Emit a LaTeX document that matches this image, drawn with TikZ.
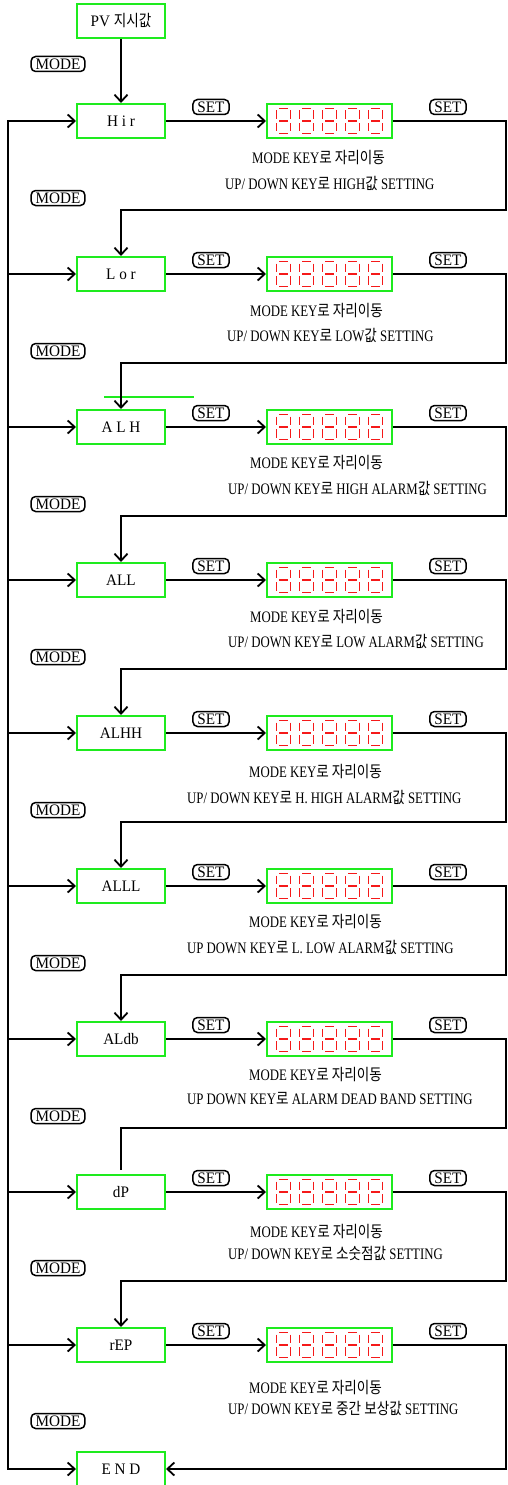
\documentclass[tikz,border=0pt]{standalone}
\usepackage{fontspec}
\setmainfont{Liberation Serif}[FakeStretch=0.8]
\newfontfamily\keyfont{Liberation Serif}[FakeStretch=0.95]
\newfontfamily\kr{Noto Sans CJK KR}[FakeStretch=0.85]
\usetikzlibrary{positioning,arrows.meta}
\definecolor{boxgreen}{RGB}{30,235,30}
\definecolor{segred}{RGB}{245,25,25}
% five seven-segment "8" digits inside a display box
\newcommand{\segdisplay}[1]{%
  \begin{scope}[shift={(#1.center)}]
    \foreach \k in {-46,-23,0,23,46} {%
      \draw[segline] ({\k-4.5},-12.5) -- ({\k+4.5},-12.5) ({\k-4.5},0) -- ({\k+4.5},0) ({\k-4.5},12.5) -- ({\k+4.5},12.5)
        ({\k-7},-10.5) -- ({\k-7},-2.2) ({\k+7},-10.5) -- ({\k+7},-2.2)
        ({\k-7},2.2) -- ({\k-7},10.5) ({\k+7},2.2) -- ({\k+7},10.5);
    }
  \end{scope}}

\begin{document}
\begin{tikzpicture}[x=1pt,y=-1pt,
  menubox/.style={draw=boxgreen,line width=2pt,minimum width=88pt,minimum height=34pt,inner sep=0pt,font=\keyfont\fontsize{16}{18}\selectfont},
  dispbox/.style={draw=boxgreen,line width=2pt,minimum width=125pt,minimum height=34pt,inner sep=0pt},
  keycap/.style={draw,rounded corners=4.5pt,line width=1.5pt,inner xsep=4.5pt,inner ysep=0pt,minimum height=15pt,font=\keyfont\fontsize{16}{16}\selectfont},
  note/.style={anchor=west,inner sep=0pt,font=\fontsize{16}{18}\selectfont},
  flowarr/.style={line width=1.8pt,-{Straight Barb[length=7pt,width=13pt]}},
  flowline/.style={line width=1.8pt},
  segline/.style={draw=segred,line width=1.8pt}]
\useasboundingbox (0,0) rectangle (507,1485);
% PV
\node[menubox] (pv) at (121,21) {PV {\kr 지시값}};
\node[keycap] (mode1) at (58,64) {MODE};
% Hir
\node[menubox] (hir) at (121,121) {H i r};
\node[dispbox,right=100pt of hir] (d1) {};
\segdisplay{d1}
\node[keycap] (hirset) at (211,107) {SET};
\node[keycap] (hirnext) at (448,107) {SET};
\node[note] (hirtxt1) at (252,158) {MODE KEY{\kr 로 자리이동}};
\node[note] (hirtxt2) at (225,183) {UP/ DOWN KEY{\kr 로} HIGH{\kr 값} SETTING};
\coordinate (ret1) at (506,210);
\node[keycap] (mode2) at (58,198) {MODE};
% Lor
\node[menubox] (lor) at (121,274) {L o r};
\node[dispbox,right=100pt of lor] (d2) {};
\segdisplay{d2}
\node[keycap] (lorset) at (211,260) {SET};
\node[keycap] (lornext) at (448,260) {SET};
\node[note] (lortxt1) at (250,311) {MODE KEY{\kr 로 자리이동}};
\node[note] (lortxt2) at (227,335) {UP/ DOWN KEY{\kr 로} LOW{\kr 값} SETTING};
\coordinate (ret2) at (506,363);
\node[keycap] (mode3) at (58,351) {MODE};
% ALH
\draw[boxgreen,line width=1.5pt] (104,397) -- (194,397); % stray green line
\node[menubox] (alh) at (121,427) {A L H};
\node[dispbox,right=100pt of alh] (d3) {};
\segdisplay{d3}
\node[keycap] (alhset) at (211,413) {SET};
\node[keycap] (alhnext) at (448,413) {SET};
\node[note] (alhtxt1) at (250,463) {MODE KEY{\kr 로 자리이동}};
\node[note] (alhtxt2) at (228,488) {UP/ DOWN KEY{\kr 로} HIGH ALARM{\kr 값} SETTING};
\coordinate (ret3) at (506,516);
\node[keycap] (mode4) at (58,504) {MODE};
% ALL
\node[menubox] (all) at (121,580) {ALL};
\node[dispbox,right=100pt of all] (d4) {};
\segdisplay{d4}
\node[keycap] (allset) at (211,566) {SET};
\node[keycap] (allnext) at (448,566) {SET};
\node[note] (alltxt1) at (250,617) {MODE KEY{\kr 로 자리이동}};
\node[note] (alltxt2) at (228,641) {UP/ DOWN KEY{\kr 로} LOW ALARM{\kr 값} SETTING};
\coordinate (ret4) at (506,669);
\node[keycap] (mode5) at (58,657) {MODE};
% ALHH
\node[menubox] (alhh) at (121,733) {ALHH};
\node[dispbox,right=100pt of alhh] (d5) {};
\segdisplay{d5}
\node[keycap] (alhhset) at (211,719) {SET};
\node[keycap] (alhhnext) at (448,719) {SET};
\node[note] (alhhtxt1) at (249,772) {MODE KEY{\kr 로 자리이동}};
\node[note] (alhhtxt2) at (187,797) {UP/ DOWN KEY{\kr 로} H. HIGH ALARM{\kr 값} SETTING};
\coordinate (ret5) at (506,822);
\node[keycap] (mode6) at (58,810) {MODE};
% ALLL
\node[menubox] (alll) at (121,886) {ALLL};
\node[dispbox,right=100pt of alll] (d6) {};
\segdisplay{d6}
\node[keycap] (alllset) at (211,872) {SET};
\node[keycap] (alllnext) at (448,872) {SET};
\node[note] (allltxt1) at (249,922) {MODE KEY{\kr 로 자리이동}};
\node[note] (allltxt2) at (187,947) {UP DOWN KEY{\kr 로} L. LOW ALARM{\kr 값} SETTING};
\coordinate (ret6) at (506,975);
\node[keycap] (mode7) at (58,963) {MODE};
% ALdb
\node[menubox] (aldb) at (121,1039) {ALdb};
\node[dispbox,right=100pt of aldb] (d7) {};
\segdisplay{d7}
\node[keycap] (aldbset) at (211,1025) {SET};
\node[keycap] (aldbnext) at (448,1025) {SET};
\node[note] (aldbtxt1) at (249,1075) {MODE KEY{\kr 로 자리이동}};
\node[note] (aldbtxt2) at (187,1099) {UP DOWN KEY{\kr 로} ALARM DEAD BAND SETTING};
\coordinate (ret7) at (506,1128);
\node[keycap] (mode8) at (58,1116) {MODE};
% dP
\node[menubox] (dp) at (121,1192) {dP};
\node[dispbox,right=100pt of dp] (d8) {};
\segdisplay{d8}
\node[keycap] (dpset) at (211,1178) {SET};
\node[keycap] (dpnext) at (448,1178) {SET};
\node[note] (dptxt1) at (250,1231) {MODE KEY{\kr 로 자리이동}};
\node[note] (dptxt2) at (228,1253) {UP/ DOWN KEY{\kr 로 소숫점값} SETTING};
\coordinate (ret8) at (506,1281);
\node[keycap] (mode9) at (58,1268) {MODE};
% rEP
\node[menubox] (rep) at (121,1345) {rEP};
\node[dispbox,right=100pt of rep] (d9) {};
\segdisplay{d9}
\node[keycap] (repset) at (211,1331) {SET};
\node[keycap] (repnext) at (448,1331) {SET};
\node[note] (reptxt1) at (249,1387) {MODE KEY{\kr 로 자리이동}};
\node[note] (reptxt2) at (228,1408) {UP/ DOWN KEY{\kr 로 중간 보상값} SETTING};
\coordinate (ret9) at (506,1469);
\node[keycap] (mode10) at (58,1421) {MODE};
% END
\node[menubox] (endbox) at (121,1469) {E N D};
% Connectors
\coordinate (trunktop) at (8,121);
\coordinate (trunkbot) at (8,1469);
\draw[line width=2.6pt,line cap=rect] (trunktop) -- (trunkbot); % mode trunk
\draw[flowarr] (pv) -- (hir);
\draw[flowarr] (trunktop) -- (hir);
\draw[flowarr] (trunktop |- lor) -- (lor);
\draw[flowarr] (trunktop |- alh) -- (alh);
\draw[flowarr] (trunktop |- all) -- (all);
\draw[flowarr] (trunktop |- alhh) -- (alhh);
\draw[flowarr] (trunktop |- alll) -- (alll);
\draw[flowarr] (trunktop |- aldb) -- (aldb);
\draw[flowarr] (trunktop |- dp) -- (dp);
\draw[flowarr] (trunktop |- rep) -- (rep);
\draw[flowarr] (trunkbot) -- (endbox);
\draw[flowarr] (hir) -- (d1);
\draw[flowarr] (lor) -- (d2);
\draw[flowarr] (alh) -- (d3);
\draw[flowarr] (all) -- (d4);
\draw[flowarr] (alhh) -- (d5);
\draw[flowarr] (alll) -- (d6);
\draw[flowarr] (aldb) -- (d7);
\draw[flowarr] (dp) -- (d8);
\draw[flowarr] (rep) -- (d9);
\draw[flowarr] (d1.east) -| (ret1) -| (lor.north);
\draw[flowarr] (d2.east) -| (ret2) -| (alh.north);
\draw[flowarr] (d3.east) -| (ret3) -| (all.north);
\draw[flowarr] (d4.east) -| (ret4) -| (alhh.north);
\draw[flowarr] (d5.east) -| (ret5) -| (alll.north);
\draw[flowarr] (d6.east) -| (ret6) -| (aldb.north);
\draw[flowline] (d7.east) -| (ret7) -| ([yshift=4pt]dp.north); % no tip here
\draw[flowarr] (d8.east) -| (ret8) -| (rep.north);
\draw[flowarr] (d9.east) -| (ret9) -- (endbox);
\end{tikzpicture}
\end{document}
